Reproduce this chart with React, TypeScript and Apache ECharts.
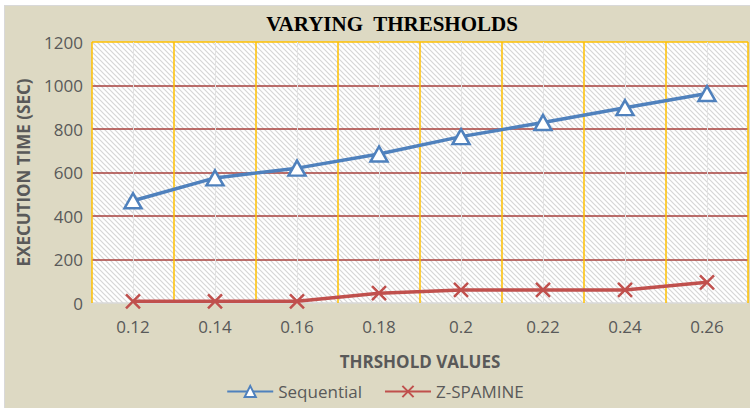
import React, { useEffect, useRef } from 'react';
import * as echarts from 'echarts';

const thresholds = ['0.12', '0.14', '0.16', '0.18', '0.2', '0.22', '0.24', '0.26'];
const sequential = [470, 575, 620, 685, 765, 830, 898, 963];
const zSpamine = [8, 8, 8, 45, 60, 60, 60, 95];
const titleText = 'VARYING  THRESHOLDS';
const xName = 'THRSHOLD VALUES';
const yName = 'EXECUTION TIME (SEC)';

const BLUE = '#4f81bd';
const RED = '#c0504d';
const GRID_RED = '#a7403d';
const YELLOW = '#ffc000';
const LABEL = '#595959';
const FONT = '"Open Sans", sans-serif';

export default function App() {
  const ref = useRef<HTMLDivElement>(null);
  useEffect(() => {
    document.body.style.margin = '0';
    const chart = echarts.init(ref.current!, null, { renderer: 'svg' });
    const hatchSvg =
      "<svg xmlns='http://www.w3.org/2000/svg' width='5' height='5'><rect width='5' height='5' fill='white'/><path d='M-1,-1L6,6M-1,4L1,6M4,-1L6,1' stroke='#d6d6d6' stroke-width='1.2'/></svg>";
    const hatch = 'data:image/svg+xml;base64,' + btoa(hatchSvg);

    chart.setOption({
      animation: false,
      backgroundColor: '#ddd9c3',
      textStyle: { fontFamily: FONT },
      graphic: [
        { type: 'rect', shape: { x: 0, y: 0, width: 750, height: 5 }, style: { fill: '#ffffff' }, silent: true },
        { type: 'rect', shape: { x: 0, y: 0, width: 4, height: 408 }, style: { fill: '#ffffff' }, silent: true },
        { type: 'line', shape: { x1: 4, y1: 5.5, x2: 750, y2: 5.5 }, style: { stroke: '#d9d9d9', lineWidth: 1 }, silent: true },
        { type: 'line', shape: { x1: 4.5, y1: 5, x2: 4.5, y2: 408 }, style: { stroke: '#d9d9d9', lineWidth: 1 }, silent: true },
        {
          type: 'text',
          x: 392,
          y: 24,
          style: {
            text: titleText,
            fill: '#000000',
            font: 'bold 21px "Liberation Serif", serif',
            textAlign: 'center',
            textVerticalAlign: 'middle',
          },
        },
      ],
      grid: {
        left: 92,
        right: 2,
        top: 42,
        bottom: 105,
        show: true,
        borderWidth: 0,
        backgroundColor: { image: hatch, repeat: 'repeat', imageWidth: 5, imageHeight: 5 },
      },
      legend: {
        top: 378,
        left: 'center',
        itemWidth: 46,
        itemHeight: 14,
        itemGap: 22,
        textStyle: { fontSize: 17, color: LABEL, fontFamily: FONT },
        data: ['Sequential', 'Z-SPAMINE'],
      },
      xAxis: [
        {
          type: 'category',
          data: thresholds,
          boundaryGap: true,
          axisLine: { show: false },
          axisTick: { show: false },
          axisLabel: { color: LABEL, fontSize: 17, margin: 15, fontFamily: FONT },
          splitLine: { show: true, lineStyle: { color: YELLOW, width: 1.5 } },
          name: xName,
          nameLocation: 'middle',
          nameGap: 50,
          nameTextStyle: { fontWeight: 'bold', fontSize: 17, color: LABEL, fontFamily: FONT },
          z: 3,
        },
        {
          type: 'value',
          min: 0,
          max: 16,
          interval: 1,
          position: 'top',
          axisLine: { show: false },
          axisTick: { show: false },
          axisLabel: { show: false },
          splitLine: { show: true, lineStyle: { color: ['rgba(0,0,0,0)', '#e2e2e2'], width: 1 } },
          z: 1,
        },
      ],
      yAxis: {
        type: 'value',
        min: 0,
        max: 1200,
        interval: 200,
        axisLine: { show: false },
        axisTick: { show: false },
        axisLabel: { color: LABEL, fontSize: 17, margin: 9, fontFamily: FONT, formatter: (v: number) => String(v) },
        splitLine: {
          show: true,
          lineStyle: {
            color: ['#d9d9d9', GRID_RED, GRID_RED, GRID_RED, GRID_RED, GRID_RED, YELLOW],
            width: 1.5,
          },
        },
        name: yName,
        nameLocation: 'middle',
        nameGap: 60,
        nameTextStyle: { fontWeight: 'bold', fontSize: 17, color: LABEL, fontFamily: FONT },
      },
      series: [
        {
          name: 'Sequential',
          type: 'line',
          xAxisIndex: 0,
          data: sequential,
          symbol: 'triangle',
          symbolSize: [17, 15],
          lineStyle: { color: BLUE, width: 3.5 },
          itemStyle: { color: '#ffffff', borderColor: BLUE, borderWidth: 2.5 },
          z: 5,
        },
        {
          name: 'Z-SPAMINE',
          type: 'line',
          xAxisIndex: 0,
          data: zSpamine,
          symbol: 'path://M0,0L10,10M10,0L0,10',
          symbolSize: 14,
          lineStyle: { color: RED, width: 3.5 },
          itemStyle: { color: RED, borderColor: RED, borderWidth: 2.5 },
          z: 5,
        },
      ],
    });
    return () => chart.dispose();
  }, []);
  return <div ref={ref} style={{ width: 750, height: 408 }} />;
}
